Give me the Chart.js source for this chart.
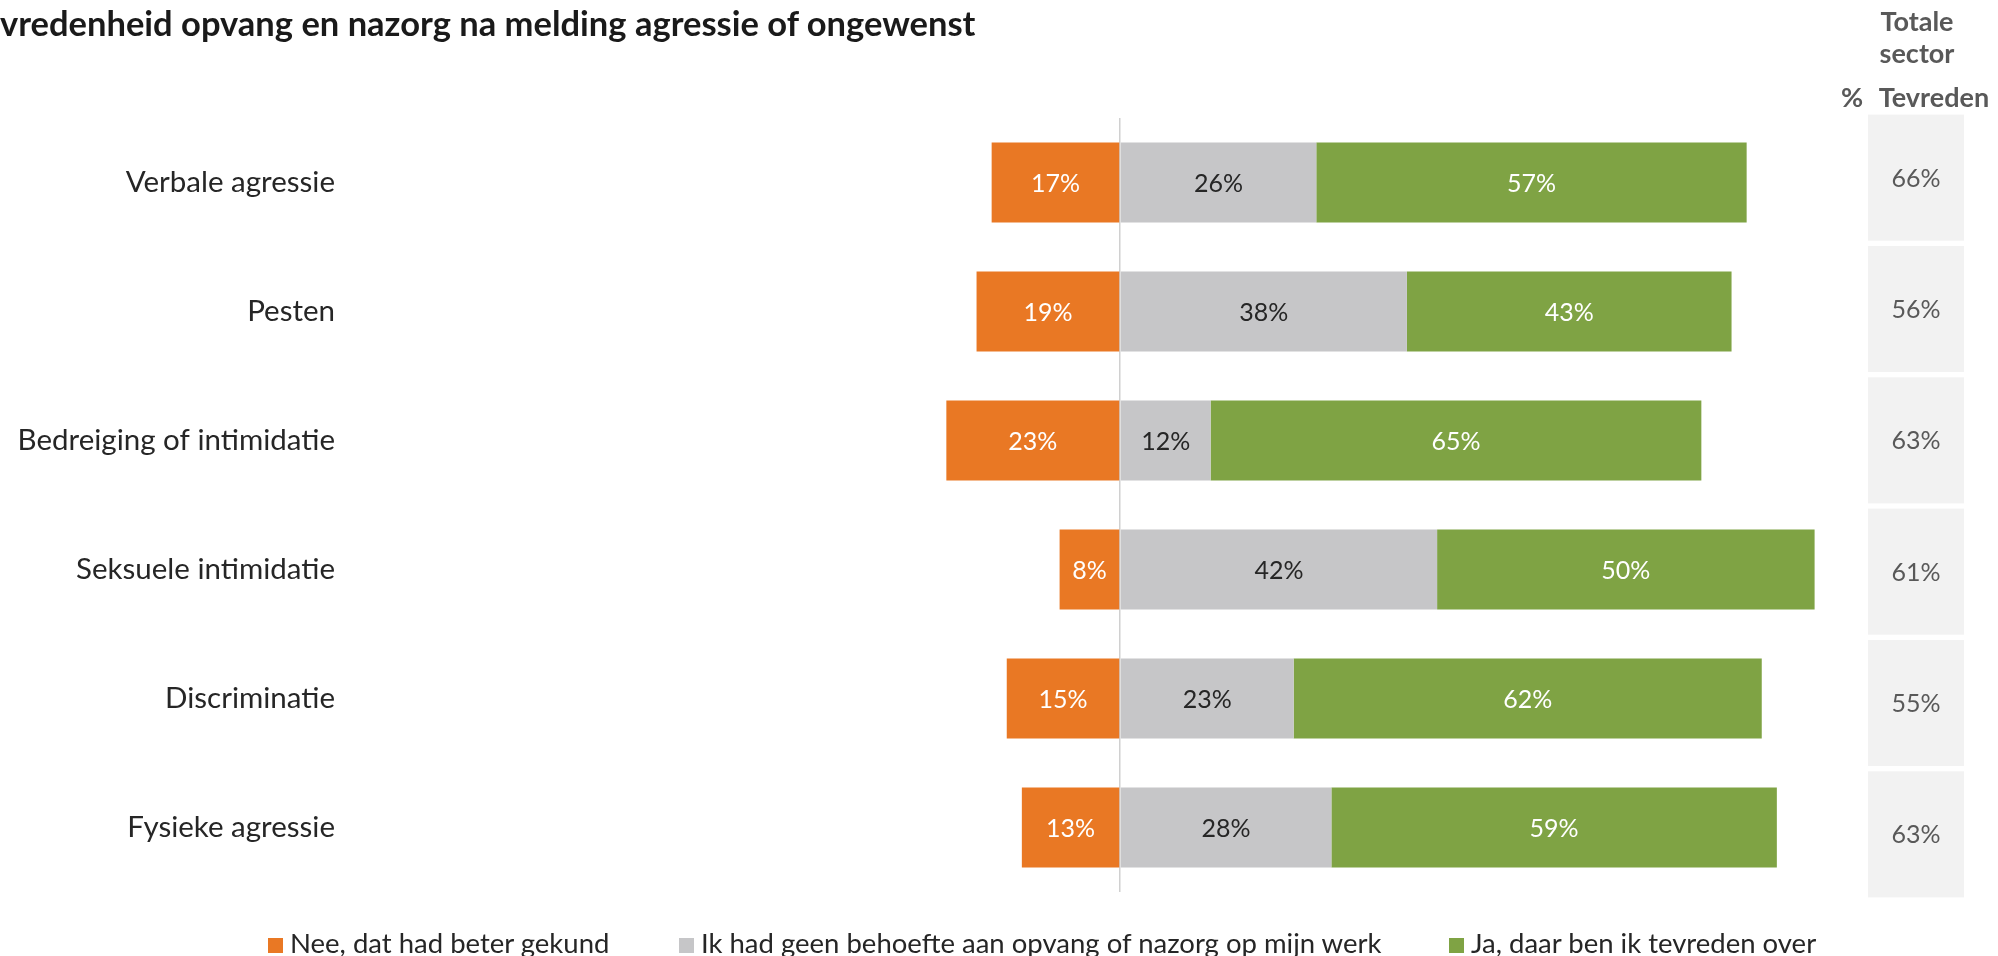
<!DOCTYPE html>
<html>
<head>
<meta charset="utf-8">
<script src="https://cdn.jsdelivr.net/npm/chart.js@4.4.1/dist/chart.umd.min.js"></script>
<style>
    body { margin: 0; background: #fff; font-family: 'Lato', sans-serif; }
    #page { position: relative; width: 1998px; height: 956px; overflow: hidden; }
    #title { position: absolute; left: 0; top: 2px; font-weight: bold; font-size: 34.5px; color: #1a1a1a; white-space: nowrap; }
    .head { position: absolute; font-weight: bold; font-size: 27px; color: #595959; white-space: nowrap; transform: translate(-50%, -50%); }
    #main-wrap { position: absolute; left: 0; top: 0; width: 1998px; height: 956px; }
    #col-wrap { position: absolute; left: 1868px; top: 112px; width: 96px; height: 788px; }
    .leg { position: absolute; top: 926px; font-size: 27.5px; color: #262626; white-space: nowrap; }
    .leg span { display: inline-block; width: 15px; height: 15px; margin-right: 7px; }
</style>
</head>
<body>
<div id="page">
    <div id="main-wrap"><canvas id="agressie"></canvas></div>
    <div id="col-wrap"><canvas id="sector"></canvas></div>
    <div id="title">vredenheid opvang en nazorg na melding agressie of ongewenst</div>
    <div class="head" style="left:1917px; top:20px;">Totale</div>
    <div class="head" style="left:1917px; top:52px;">sector</div>
    <div class="head" style="left:1852px; top:96px;">%</div>
    <div class="head" style="left:1934px; top:96px;">Tevreden</div>
    <div id="legend"></div>
</div>
<script>
const categories = ['Verbale agressie', 'Pesten', 'Bedreiging of intimidatie', 'Seksuele intimidatie', 'Discriminatie', 'Fysieke agressie'];
const nee = [-17, -19, -23, -8, -15, -13];
const geenBehoefte = [26, 38, 12, 42, 23, 28];
const tevreden = [57, 43, 65, 50, 62, 59];
const sectorTevreden = [66, 56, 63, 61, 55, 63];

const seriesNames = ['Nee, dat had beter gekund', 'Ik had geen behoefte aan opvang of nazorg op mijn werk', 'Ja, daar ben ik tevreden over'];
const seriesColors = ['#e97824', '#c6c6c8', '#7fa344'];
const labelColors = ['#ffffff', '#262626', '#ffffff'];

const barLabels = {
    id: 'barLabels',
    afterDatasetsDraw(chart) {
        const ctx = chart.ctx;
        ctx.save();
        ctx.font = '25px Lato';
        ctx.textAlign = 'center';
        ctx.textBaseline = 'middle';
        chart.data.datasets.forEach((ds, i) => {
            chart.getDatasetMeta(i).data.forEach((bar, j) => {
                ctx.fillStyle = labelColors[i];
                ctx.fillText(Math.abs(ds.data[j]) + '%', (bar.x + bar.base) / 2, bar.y + 1);
            });
        });
        ctx.restore();
    }
};

const agressie_ctx = document.getElementById('agressie');

let agressie = new Chart(agressie_ctx, {
    type: 'bar',
    data: {
        labels: categories,
        datasets: [{
            label: seriesNames[0],
            data: nee,
            backgroundColor: seriesColors[0],
        },
        {
            label: seriesNames[1],
            data: geenBehoefte,
            backgroundColor: seriesColors[1],
        },
        {
            label: seriesNames[2],
            data: tevreden,
            backgroundColor: seriesColors[2],
        }]
    },
    options: {
        indexAxis: 'y',
        responsive: true,
        maintainAspectRatio: false,
        animation: false,
        categoryPercentage: 0.62,
        barPercentage: 1,
        layout: {
            padding: { top: 118, bottom: 64, left: 0, right: 123 }
        },
        plugins: {
            legend: { display: false },
            tooltip: { enabled: false },
        },
        scales: {
            x: {
                stacked: true,
                min: -100,
                max: 100,
                ticks: { display: false, stepSize: 100 },
                grid: {
                    drawTicks: false,
                    color: (c) => c.tick && c.tick.value === 0 ? '#d0d0d0' : 'rgba(0,0,0,0)',
                    lineWidth: 1.5,
                },
                border: { display: false },
                afterFit: (scale) => { scale.height = 0; },
            },
            y: {
                stacked: true,
                grid: { display: false },
                border: { display: false },
                ticks: {
                    color: '#262626',
                    font: { family: 'Lato', size: 29.5 },
                    padding: 22,
                },
                afterFit: (scale) => { scale.width = 365; },
            }
        }
    },
    plugins: [barLabels]
});

const columnBoxes = {
    id: 'columnBoxes',
    beforeDatasetsDraw(chart) {
        const ctx = chart.ctx;
        const area = chart.chartArea;
        ctx.save();
        chart.getDatasetMeta(0).data.forEach((bar, j) => {
            ctx.fillStyle = '#f2f2f2';
            ctx.fillRect(area.left, bar.y - bar.height / 2, area.right - area.left, bar.height);
            ctx.fillStyle = '#595959';
            ctx.font = '25px Lato';
            ctx.textAlign = 'center';
            ctx.textBaseline = 'middle';
            ctx.fillText(sectorTevreden[j] + '%', (area.left + area.right) / 2, bar.y + 1);
        });
        ctx.restore();
    }
};

const sector_ctx = document.getElementById('sector');

let sector = new Chart(sector_ctx, {
    type: 'bar',
    data: {
        labels: categories,
        datasets: [{
            label: '% Tevreden',
            data: sectorTevreden,
            backgroundColor: 'rgba(0,0,0,0)',
        }]
    },
    options: {
        indexAxis: 'y',
        responsive: true,
        maintainAspectRatio: false,
        animation: false,
        categoryPercentage: 0.96,
        barPercentage: 1,
        plugins: {
            legend: { display: false },
            tooltip: { enabled: false },
        },
        scales: {
            x: { display: false, min: 0, max: 100 },
            y: { display: false },
        }
    },
    plugins: [columnBoxes]
});

// legend
const legendLefts = [268, 679, 1449];
const legend = document.getElementById('legend');
seriesNames.forEach((name, i) => {
    let item = document.createElement('div');
    item.className = 'leg';
    item.style.left = legendLefts[i] + 'px';
    item.innerHTML = `<span style="background:${seriesColors[i]}"></span>${name}`;
    legend.appendChild(item);
});
</script>
</body>
</html>
